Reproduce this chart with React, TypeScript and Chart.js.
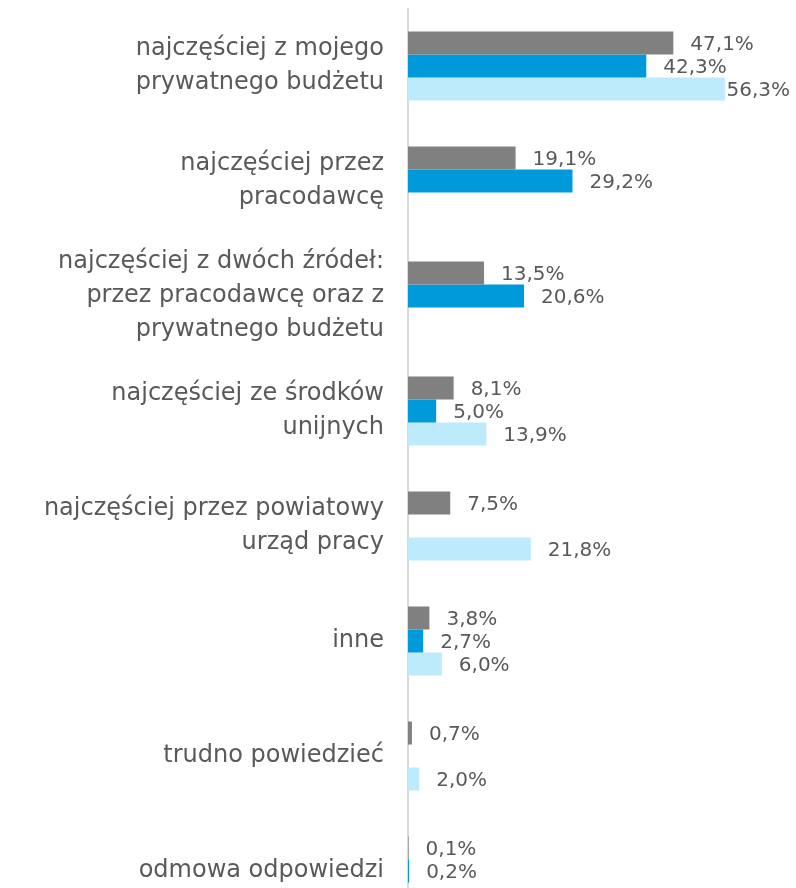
import React, { useEffect, useRef } from "react";
import { Chart, registerables } from "chart.js";

Chart.register(...registerables);

const categories: string[][] = [
  ["najczęściej z mojego", "prywatnego budżetu"],
  ["najczęściej przez", "pracodawcę"],
  ["najczęściej z dwóch źródeł:", "przez pracodawcę oraz z", "prywatnego budżetu"],
  ["najczęściej ze środków", "unijnych"],
  ["najczęściej przez powiatowy", "urząd pracy"],
  ["inne"],
  ["trudno powiedzieć"],
  ["odmowa odpowiedzi"],
];

const seriesGray: (number | null)[] = [47.1, 19.1, 13.5, 8.1, 7.5, 3.8, 0.7, 0.1];
const seriesBlue: (number | null)[] = [42.3, 29.2, 20.6, 5.0, null, 2.7, null, 0.2];
const seriesLight: (number | null)[] = [56.3, null, null, 13.9, 21.8, 6.0, 2.0, null];

const FONT = "'DejaVu Sans', sans-serif";
const TEXT = "#595959";

const labelPlugin = {
  id: "valueLabels",
  afterDatasetsDraw(chart: any) {
    const ctx = chart.ctx;
    ctx.save();
    ctx.font = `20px ${FONT}`;
    ctx.fillStyle = TEXT;
    ctx.textBaseline = "middle";
    ctx.textAlign = "left";
    chart.data.datasets.forEach((ds: any, di: number) => {
      const meta = chart.getDatasetMeta(di);
      meta.data.forEach((el: any, i: number) => {
        const v = ds.data[i];
        if (v === null || v === undefined) return;
        const txt = v.toFixed(1).replace(".", ",") + "%";
        const w = ctx.measureText(txt).width;
        const x = Math.min(el.x + 17, chart.width - 6 - w);
        ctx.fillText(txt, x, el.y + 2);
      });
    });
    ctx.restore();
  },
};

export default function App() {
  const ref = useRef<HTMLCanvasElement | null>(null);
  useEffect(() => {
    if (!ref.current) return;
    const chart = new Chart(ref.current, {
      type: "bar",
      data: {
        labels: categories,
        datasets: [
          { data: seriesGray, backgroundColor: "#808080" },
          { data: seriesBlue, backgroundColor: "#009ADA" },
          { data: seriesLight, backgroundColor: "#BDEBFB" },
        ],
      },
      options: {
        indexAxis: "y",
        responsive: false,
        animation: false,
        maintainAspectRatio: false,
        layout: { padding: { left: 0, right: 50, top: 8.5, bottom: 1.5 } },
        datasets: { bar: { categoryPercentage: 0.6, barPercentage: 1.0, skipNull: false } },
        plugins: { legend: { display: false }, tooltip: { enabled: false } },
        scales: {
          x: { display: false, min: 0, max: 60 },
          y: {
            grid: { display: false, drawTicks: false },
            border: { display: true, color: "#D9D9D9", width: 2 },
            ticks: {
              color: TEXT,
              font: { family: FONT, size: 24, lineHeight: 1.42 },
              padding: 24,
              autoSkip: false,
            },
            afterFit: (s: any) => {
              s.width = 408;
              s.paddingTop = 0;
              s.paddingBottom = 0;
            },
          },
        },
      },
      plugins: [labelPlugin],
    } as any);
    return () => chart.destroy();
  }, []);
  return (
    <div style={{ position: "fixed", left: 0, top: 0, width: 796, height: 888, overflow: "hidden", background: "#fff" }}>
      <canvas ref={ref} width={796} height={930} style={{ display: "block" }} />
    </div>
  );
}
